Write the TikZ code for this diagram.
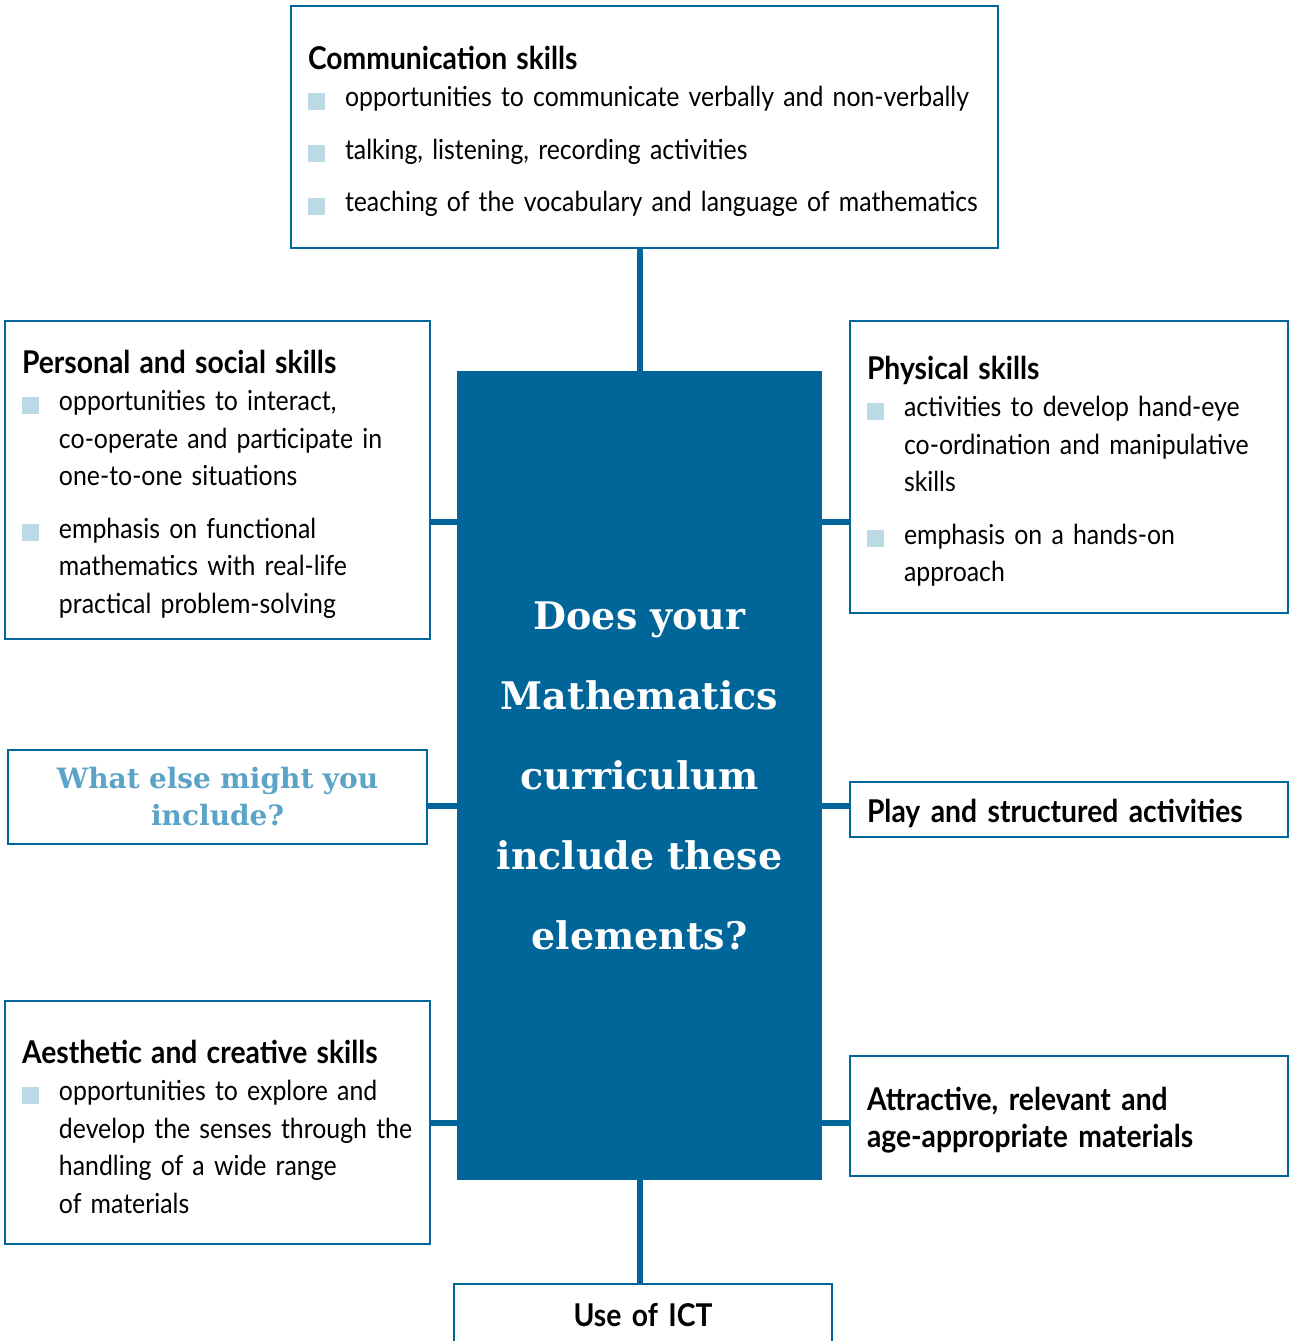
\documentclass[tikz,border=0pt]{standalone}
\usepackage{fontspec}
\setmainfont{Lato}[FakeStretch=0.9]
\newfontfamily\slabfont{DejaVu Serif}
\definecolor{mathblue}{RGB}{0,102,154}
\definecolor{bulletblue}{RGB}{188,217,230}
\definecolor{askblue}{RGB}{91,163,199}
\newcommand{\bodyfont}{\fontsize{13.8pt}{18.75pt}\selectfont}
\newcommand{\headfont}{\bfseries\fontsize{15.7pt}{18.75pt}\selectfont}
\newcommand{\headstrut}{\rule{0pt}{16pt}}
\newcommand{\skillhead}[1]{{\headfont\headstrut#1}}
\newcommand{\bitem}[1][7.5pt]{\par\vspace{#1}\noindent\hangindent=18.5pt\hangafter=1%
  \hbox to 18.5pt{\textcolor{bulletblue}{\rule[-1.5pt]{8.5pt}{8.5pt}}\hfil}\ignorespaces}
\begin{document}
\begin{tikzpicture}[x=0.5pt,y=-0.5pt,inner sep=0pt,outer sep=0pt,
skillbox/.style={draw=mathblue,line width=1pt,rectangle,anchor=north west,inner xsep=8.5pt,align=left,font=\bodyfont},
link/.style={draw=mathblue,line width=3pt}]
\useasboundingbox (0,0) rectangle (1290,1341);
% central question
\node[fill=mathblue,anchor=north west,minimum width=182.5pt,minimum height=404.5pt,text width=178pt,align=center,
  text=white,font=\slabfont\bfseries\fontsize{19pt}{40pt}\selectfont] (core) at (457,371)
  {Does your\\Mathematics\\curriculum\\include these\\elements?};
% boxes round it
\node[skillbox,minimum width=353.5pt,minimum height=121pt,text width=336.5pt] (comm) at (291,6)
  {\skillhead{Communication skills}
   \bitem[0pt] opportunities to communicate verbally and non-verbally
   \bitem talking, listening, recording activities
   \bitem teaching of the vocabulary and language of mathematics\par};
\node[skillbox,minimum width=212.5pt,minimum height=159pt,text width=195.5pt] (pers) at (5,321)
  {\skillhead{Personal and social skills}
   \bitem[0pt] opportunities to interact,\newline co-operate and participate in\newline one-to-one situations
   \bitem emphasis on functional\newline mathematics with real-life\newline practical problem-solving\par};
\node[skillbox,minimum width=209.5pt,minimum height=47pt,text width=192.5pt,align=center,text=askblue,
  font=\slabfont\bfseries\fontsize{14pt}{18.5pt}\selectfont] (other) at (8,750)
  {What else might you\\include?};
\node[skillbox,minimum width=212.5pt,minimum height=121.5pt,text width=195.5pt] (aest) at (5,1001)
  {\skillhead{Aesthetic and creative skills}
   \bitem[0pt] opportunities to explore and\newline develop the senses through the\newline handling of a wide range\newline of materials\par};
\node[skillbox,minimum width=219pt,minimum height=146pt,text width=202pt] (phys) at (850,321)
  {\skillhead{Physical skills}
   \bitem[0pt] activities to develop hand-eye\newline co-ordination and manipulative\newline skills
   \bitem emphasis on a hands-on\newline approach\par};
\node[skillbox,minimum width=219pt,minimum height=27.5pt,text width=202pt,font=\headfont] (play) at (850,782)
  {\headstrut Play and structured activities};
\node[skillbox,minimum width=219pt,minimum height=60pt,text width=202pt,font=\headfont] (attr) at (850,1056)
  {\headstrut Attractive, relevant and\\age-appropriate materials};
\node[skillbox,minimum width=189pt,minimum height=31pt,text width=172pt,align=center,font=\headfont] (ict) at (454,1284)
  {Use of ICT};
% connectors
\coordinate (rowa) at (0,522);
\coordinate (rowb) at (0,806);
\coordinate (rowc) at (0,1123);
\draw[link] (core.north) -- (core.north |- comm.south);
\draw[link] (core.south) -- (core.south |- ict.north);
\draw[link] (pers.east |- rowa) -- (core.west |- rowa);
\draw[link] (other.east |- rowb) -- (core.west |- rowb);
\draw[link] (aest.east |- rowc) -- (core.west |- rowc);
\draw[link] (core.east |- rowa) -- (phys.west |- rowa);
\draw[link] (core.east |- rowb) -- (play.west |- rowb);
\draw[link] (core.east |- rowc) -- (attr.west |- rowc);
\end{tikzpicture}
\end{document}
